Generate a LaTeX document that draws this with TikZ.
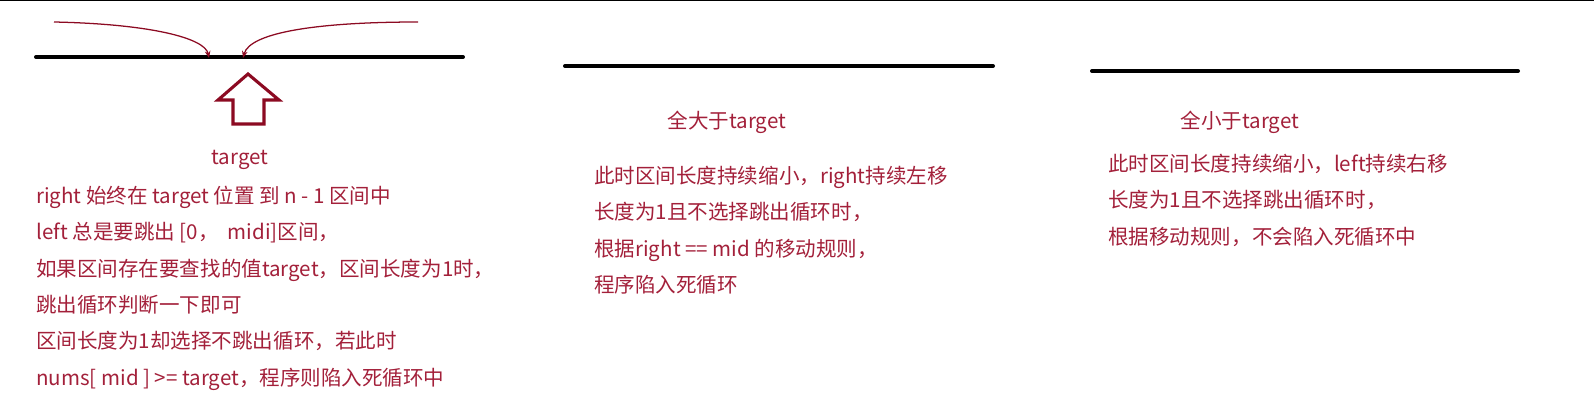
\documentclass[tikz,border=0pt]{standalone}
\usepackage{fontspec}
\setmainfont{Noto Sans CJK SC}
\usepackage{tikz}
\usetikzlibrary{arrows.meta,positioning}
\definecolor{notered}{HTML}{A3203A}
\definecolor{penred}{HTML}{8C0A22}

\begin{document}
\begin{tikzpicture}[x=0.025cm,y=-0.025cm,
every node/.style={font=\fontsize{14.6pt}{25.8pt}\selectfont},
note/.style={text=notered,inner sep=0pt,align=left,anchor=north west},
bar/.style={line width=4pt*0.709,line cap=round},
pen/.style={draw=penred,line width=0.9pt,-{Stealth[length=5pt,width=4pt]}},
bigarrow/.style={draw=penred,line width=2.2pt,line join=miter}
]
\useasboundingbox (0,0) rectangle (1594,400);
\draw[line width=1.2pt] (0,0.5) -- (1594,0.5);

\draw[bar] (36,57) -- (463,57);
\draw[bar] (565,66) -- (993,66);
\draw[bar] (1092,71) -- (1518,71);

\coordinate (lstart) at (54,22);
\coordinate (lend) at (209,58);
\coordinate (rstart) at (418,22);
\coordinate (rend) at (243,58);
\draw[pen] (lstart) .. controls (150,24) and (205,38) .. (lend);
\draw[pen] (rstart) .. controls (320,22) and (250,32) .. (rend);

\draw[bigarrow] (248,74) -- (279,100) -- (264,100) -- (264,124)
  -- (233,124) -- (233,100) -- (218,100) -- cycle;

\node[note,anchor=center] (tgt) at (240,160) {target};
\node[note] (lnote) at (36,186) {right 始终在 target 位置 到 n - 1 区间中\\
left 总是要跳出 [0，\ \ midi]区间，\\
如果区间存在要查找的值target，区间长度为1时，\\
跳出循环判断一下即可\\
区间长度为1却选择不跳出循环，若此时\\
nums[ mid ] >= target，程序则陷入死循环中};

\node[note,anchor=center] (big) at (727,122) {全大于target};
\node[note] (mnote) at (594,166) {此时区间长度持续缩小，right持续左移\\
长度为1且不选择跳出循环时，\\
根据right == mid 的移动规则，\\
程序陷入死循环};

\node[note,anchor=center] (small) at (1240,122) {全小于target};
\node[note] (rnote) at (1108,154) {此时区间长度持续缩小，left持续右移\\
长度为1且不选择跳出循环时，\\
根据移动规则，不会陷入死循环中};
\end{tikzpicture}
\end{document}
